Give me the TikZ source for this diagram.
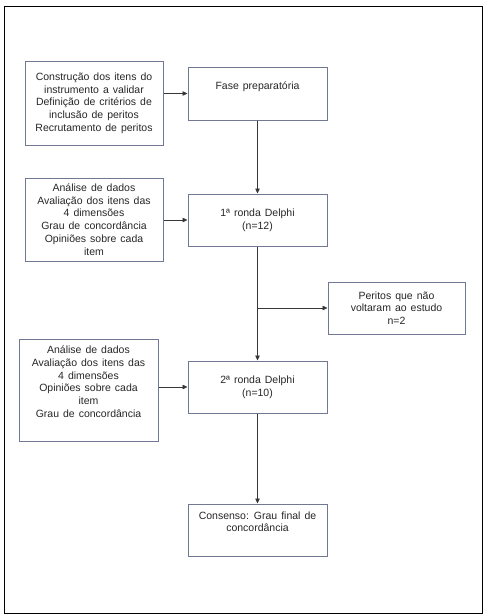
\documentclass[tikz,border=0pt]{standalone}
\usepackage{fontspec}
\setmainfont{Liberation Sans}
\usetikzlibrary{arrows.meta, positioning}
\definecolor{boxline}{RGB}{112,120,148}
\definecolor{arrline}{RGB}{55,55,55}
\newcommand{\boxfont}{\fontsize{10.5}{12.7}\selectfont\spaceskip=4pt plus 1pt\relax}

\begin{document}
\begin{tikzpicture}[x=1pt, y=-1pt, every node/.style={draw=boxline, line width=1pt, align=center, inner sep=2pt, text=black!85, font=\boxfont}, arr/.style={-{Triangle[length=5pt, width=4.5pt]}, draw=arrline, line width=0.6pt}]
                \useasboundingbox (0,0) rectangle (488,616);
                \draw[line width=1pt] (4,6) rectangle (482,613);
                \node[minimum width=138pt, minimum height=84pt](prep) at (94,103) {Construção dos itens do\\instrumento a validar\\Definição de critérios de\\inclusão de peritos\\Recrutamento de peritos};
                \node[minimum width=139pt, minimum height=53pt](fase) at (257.5,93.5) {Fase preparatória\\\strut};
                \node[minimum width=138pt, minimum height=83pt](an1) at (94,219.5) {Análise de dados\\Avaliação dos itens das\\4 dimensões\\Grau de concordância\\Opiniões sobre cada\\item};
                \node[minimum width=139pt, minimum height=52pt](ronda1) at (257.5,220) {1ª ronda Delphi\\(n=12)};
                \node[minimum width=137pt, minimum height=52pt](peritos) at (396.5,308) {Peritos que não\\voltaram ao estudo\\n=2};
                \node[minimum width=139pt, minimum height=102pt](an2) at (88.5,390) {Análise de dados\\Avaliação dos itens das\\4 dimensões\\Opiniões sobre cada\\item\\Grau de concordância\\\strut};
                \node[minimum width=139pt, minimum height=52pt](ronda2) at (257.5,387) {2ª ronda Delphi\\(n=10)};
                \node[minimum width=139pt, minimum height=52pt](cons) at (257.5,530) {Consenso: Grau final de\\concordância\\\strut};
                \coordinate (split) at (ronda1.south |- peritos.west);
                \draw[arr] (prep.east |- fase.west) -- (fase.west);
                \draw[arr] (fase) -- (ronda1);
                \draw[arr] (an1.east |- ronda1.west) -- (ronda1.west);
                \draw[arr] (ronda1) -- (ronda2);
                \draw[arr] (split) -- (peritos.west);
                \draw[arr] (an2.east |- ronda2.west) -- (ronda2.west);
                \draw[arr] (ronda2) -- (cons);
            \end{tikzpicture}
\end{document}
